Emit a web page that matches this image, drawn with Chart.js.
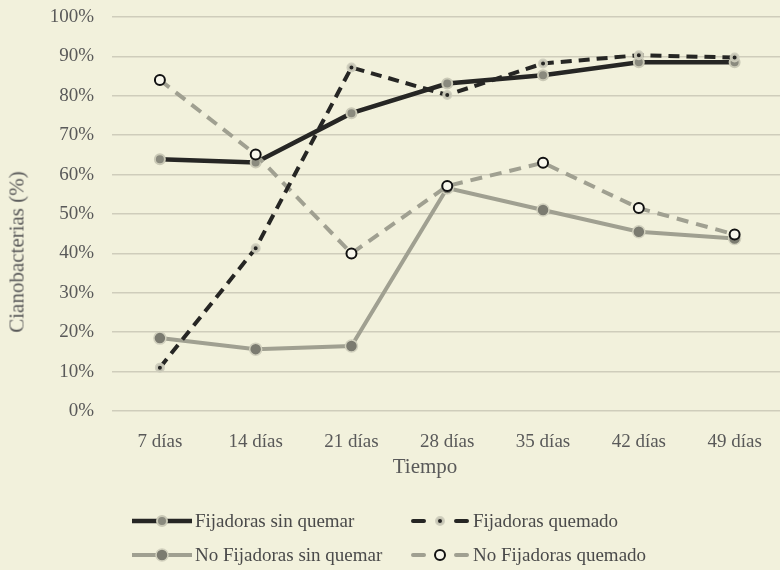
<!DOCTYPE html>
<html>
<head>
<meta charset="utf-8">
<title>Cianobacterias</title>
<script src="https://cdn.jsdelivr.net/npm/chart.js"></script>
<style>
    html, body {
        margin: 0;
        padding: 0;
        width: 780px;
        height: 570px;
        overflow: hidden;
        background: #f2f1dc;
        font-family: 'Liberation Serif', 'Times New Roman', serif;
        color: #595959;
    }
    .wrap {
        position: relative;
        width: 780px;
        height: 570px;
    }
    #chart {
        position: absolute;
        left: 0;
        top: 0;
    }
    .ytitle {
        position: absolute;
        left: 17px;
        top: 252px;
        transform: translate(-50%, -50%) rotate(-90deg);
        white-space: nowrap;
        font-size: 21px;
    }
    .xtitle {
        position: absolute;
        left: 425px;
        top: 466px;
        transform: translate(-50%, -50%);
        font-size: 21px;
    }
    .legend {
        position: absolute;
        left: 132px;
        top: 508px;
        display: grid;
        grid-template-columns: 278px 300px;
        row-gap: 8px;
        font-size: 19px;
        color: #4a4a4a;
    }
    .legend div {
        display: flex;
        align-items: center;
        height: 26px;
        white-space: nowrap;
    }
    .legend canvas {
        margin-right: 3px;
    }
</style>
</head>
<body>
<div class="wrap">
    <canvas id="chart" width="790" height="570"></canvas>
    <div class="ytitle">Cianobacterias (%)</div>
    <div class="xtitle">Tiempo</div>
    <div class="legend" id="legend"></div>
</div>

<script>
    const categories = ['7 días', '14 días', '21 días', '28 días', '35 días', '42 días', '49 días'];

    const fijSinQuemar = [63.9, 63.1, 75.6, 83.1, 85.2, 88.5, 88.5];
    const fijQuemado = [11.0, 41.3, 87.2, 80.2, 88.2, 90.3, 89.7];
    const noFijSinQuemar = [18.5, 15.7, 16.5, 56.6, 51.0, 45.5, 43.8];
    const noFijQuemado = [84.0, 65.1, 40.0, 57.1, 63.0, 51.5, 44.8];

    const dark = '#262624';
    const gray = '#a0a091';

    const datasets = [
        {
            label: 'Fijadoras sin quemar',
            data: fijSinQuemar,
            borderColor: dark,
            borderWidth: 4.5,
            pointRadius: 5,
            pointBackgroundColor: '#8a8a7e',
            pointBorderColor: '#cac9b6',
            pointBorderWidth: 2,
            order: 3
        },
        {
            label: 'Fijadoras quemado',
            data: fijQuemado,
            borderColor: dark,
            borderWidth: 4,
            borderDash: [11, 7],
            pointRadius: 3.5,
            pointBackgroundColor: dark,
            pointBorderColor: 'rgba(205,204,188,0.95)',
            pointBorderWidth: 3,
            order: 1
        },
        {
            label: 'No Fijadoras sin quemar',
            data: noFijSinQuemar,
            borderColor: gray,
            borderWidth: 4,
            pointRadius: 6,
            pointBackgroundColor: '#7b7b70',
            pointBorderColor: '#d2d1be',
            pointBorderWidth: 1.5,
            order: 4
        },
        {
            label: 'No Fijadoras quemado',
            data: noFijQuemado,
            borderColor: gray,
            borderWidth: 4,
            borderDash: [12, 8],
            pointRadius: 5,
            pointBackgroundColor: '#f8f7ec',
            pointBorderColor: '#111111',
            pointBorderWidth: 2,
            order: 2
        }
    ];

    const font = "'Liberation Serif', 'Times New Roman', serif";

    new Chart(document.getElementById('chart'), {
        type: 'line',
        data: { labels: categories, datasets: datasets },
        options: {
            responsive: false,
            animation: false,
            layout: { padding: { top: 17, right: 5, left: 0, bottom: 0 } },
            elements: { line: { tension: 0 } },
            plugins: {
                legend: { display: false },
                tooltip: { enabled: false }
            },
            scales: {
                x: {
                    offset: true,
                    grid: { display: false },
                    border: { display: false },
                    ticks: {
                        color: '#595959',
                        font: { family: font, size: 19 },
                        padding: 12,
                        maxRotation: 0
                    },
                    afterFit: s => {
                        s.height = 159;
                        s.paddingLeft = 0;
                        s.paddingRight = 0;
                    }
                },
                y: {
                    min: 0,
                    max: 100,
                    grid: { color: '#cfcdbb', lineWidth: 1.6, drawTicks: false },
                    border: { display: false },
                    ticks: {
                        stepSize: 10,
                        color: '#595959',
                        font: { family: font, size: 19 },
                        padding: 18,
                        callback: v => v + '%'
                    },
                    afterFit: s => {
                        s.width = 112;
                        s.paddingTop = 0;
                        s.paddingBottom = 0;
                    }
                }
            }
        }
    });

    // legend: short line, marker, short line
    const legend = document.getElementById('legend');
    datasets.forEach(ds => {
        const item = document.createElement('div');
        const c = document.createElement('canvas');
        c.width = 60;
        c.height = 20;
        const ctx = c.getContext('2d');
        ctx.strokeStyle = ds.borderColor;
        ctx.lineWidth = ds.borderWidth;
        ctx.lineCap = ds.borderDash ? 'round' : 'butt';
        ctx.beginPath();
        if (ds.borderDash) {
            ctx.moveTo(3, 10); ctx.lineTo(14, 10);
            ctx.moveTo(46, 10); ctx.lineTo(57, 10);
        } else {
            ctx.moveTo(0, 10); ctx.lineTo(60, 10);
        }
        ctx.stroke();
        ctx.beginPath();
        ctx.arc(30, 10, ds.pointRadius, 0, Math.PI * 2);
        ctx.fillStyle = ds.pointBackgroundColor;
        ctx.fill();
        ctx.strokeStyle = ds.pointBorderColor;
        ctx.lineWidth = ds.pointBorderWidth;
        ctx.stroke();
        item.appendChild(c);
        const span = document.createElement('span');
        span.textContent = ds.label;
        item.appendChild(span);
        legend.appendChild(item);
    });
</script>
</body>
</html>
